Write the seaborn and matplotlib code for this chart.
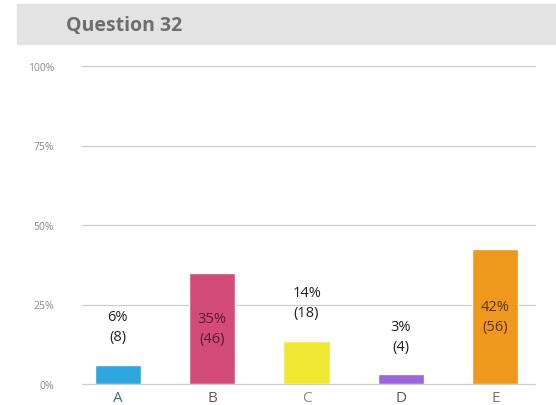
import numpy as np
import pandas as pd
import seaborn as sns
import matplotlib
matplotlib.use("Agg")
import matplotlib.pyplot as plt
from matplotlib.patches import Rectangle

# data
categories = ["A", "B", "C", "D", "E"]
counts = [8, 46, 18, 4, 56]
pct_labels = [6, 35, 14, 3, 42]
bar_colors = ["#2ea7e0", "#d34c79", "#f0e733", "#9a64dc", "#ee981d"]
tick_colors = ["#3f6d88", "#7b4b60", "#8a8a78", "#5a5272", "#8c6c52"]
inside_text = ["#222222", "#5a1a33", "#222222", "#222222", "#5e3408"]
yticks = [0, 25, 50, 75, 100]
ytick_labels = ["0%", "25%", "50%", "75%", "100%"]

total = sum(counts)
df = pd.DataFrame({"answer": categories,
                   "share": [c / total * 100 for c in counts]})

sns.set_theme(style="white")
plt.rcParams["font.family"] = ["Open Sans", "DejaVu Sans"]

fig = plt.figure(figsize=(5.56, 4.06), dpi=100)
W, H = 556, 406
ax = fig.add_axes([82 / W, 21 / H, (535 - 82) / W, (385 - 67) / H])

# title band
fig.patches.append(Rectangle((17 / W, (H - 45) / H), 1 - 17 / W, 40 / H,
                             transform=fig.transFigure, color="#e3e3e3", zorder=0))
fig.text(66 / W, (H - 26) / H, "Question 32", fontsize=14, fontweight="bold",
         color="#6e6e6e", va="center", ha="left")

sns.barplot(data=df, x="answer", y="share", hue="answer", palette=bar_colors,
            width=0.49, legend=False, ax=ax, zorder=3, saturation=1)

ax.set_ylim(0, 100)
ax.set_xlim(-0.38, 4.42)
ax.set_yticks(yticks)
ax.set_yticklabels(ytick_labels, fontsize=7.5, color="#8c8c8c")
ax.yaxis.grid(True, color="#cccccc", linewidth=0.9)
for gl in ax.get_ygridlines():
    gl.set_clip_on(False)
ax.set_axisbelow(True)
for s in ax.spines.values():
    s.set_visible(False)
ax.tick_params(axis="both", length=0)
ax.tick_params(axis="y", pad=20)
ax.tick_params(axis="x", pad=4)
ax.set_xlabel("")
ax.set_ylabel("")
for lbl, c in zip(ax.get_xticklabels(), tick_colors):
    lbl.set_color(c)
    lbl.set_fontsize(11)

for i, (p, n, v) in enumerate(zip(pct_labels, counts, df["share"])):
    y = v / 2 if v > 25 else v + 12
    ax.text(i, y, f"{p}%\n({n})", ha="center", va="center", fontsize=10.5,
            linespacing=1.45, color=inside_text[i], zorder=4)

fig.savefig("out.png", dpi=100, facecolor="white")
